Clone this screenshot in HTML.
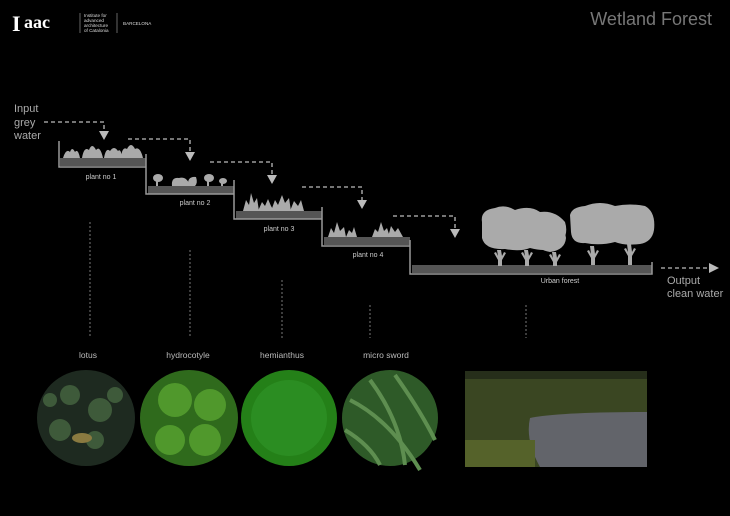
<!DOCTYPE html>
<html><head><meta charset="utf-8"><style>
html,body{margin:0;padding:0;background:#000;}
svg{display:block;}
.s{font-family:"Liberation Sans",sans-serif;}
.r{font-family:"Liberation Serif",serif;}
</style></head><body>
<svg width="730" height="516" viewBox="0 0 730 516" xmlns="http://www.w3.org/2000/svg" class="s">
<rect width="730" height="516" fill="#000"/>
<!-- logo -->
<text x="12" y="31" class="r" font-weight="bold" font-size="22" fill="#fff">I</text>
<text x="24" y="28" class="r" font-weight="bold" font-size="18" fill="#fff">aac</text>
<line x1="80" y1="13" x2="80" y2="33" stroke="#aaa" stroke-width="0.6"/>
<text x="84" y="17" font-size="4.6" fill="#ddd">Institute for</text>
<text x="84" y="22" font-size="4.6" fill="#ddd">advanced</text>
<text x="84" y="27" font-size="4.6" fill="#ddd">architecture</text>
<text x="84" y="32" font-size="4.6" fill="#ddd">of Catalonia</text>
<line x1="117" y1="13" x2="117" y2="33" stroke="#aaa" stroke-width="0.6"/>
<text x="123" y="25" font-size="4.6" fill="#ddd">BARCELONA</text>
<text x="712" y="25" text-anchor="end" font-size="18" fill="#777">Wetland Forest</text>
<g fill="#aaa" font-size="11">
<text x="14" y="112">Input</text><text x="14" y="126">grey</text><text x="14" y="139">water</text>
<text x="667" y="284">Output</text><text x="667" y="297">clean water</text>
</g>
<g stroke="#bbb" stroke-width="1.3" stroke-dasharray="4,3" fill="none">
<path d="M44 122H104V131"/><path d="M128 139H190V152"/><path d="M210 162H272V175"/>
<path d="M302 187H362V200"/><path d="M393 216H455V229"/><path d="M661 268H708"/>
</g>
<g fill="#bbb">
<polygon points="99,131 109,131 104,140"/><polygon points="185,152 195,152 190,161"/>
<polygon points="267,175 277,175 272,184"/><polygon points="357,200 367,200 362,209"/>
<polygon points="450,229 460,229 455,238"/><polygon points="709,263 719,268 709,273"/>
</g>
<g fill="#555">
<rect x="60" y="158" width="86" height="8"/><rect x="148" y="186" width="86" height="8"/>
<rect x="236" y="211" width="86" height="8"/><rect x="324" y="237" width="86" height="8"/>
<rect x="412" y="265" width="240" height="8"/>
</g>
<g stroke="#999" stroke-width="1.5" fill="none">
<path d="M59 141V167H146V154V194H234V180V219H322V207V246H410V240V274H652V262"/>
</g>
<g fill="#aaa">
<path d="M63 158 Q66 148 70 152 Q72 146 75 152 Q78 148 80 158Z"/>
<path d="M82 158 Q84 146 89 150 Q92 142 96 150 Q100 145 103 158Z"/>
<path d="M104 158 Q106 147 110 151 Q114 145 118 151 Q121 148 122 158Z"/>
<path d="M121 158 Q122 146 127 149 Q131 141 135 149 Q140 146 143 158Z"/>
<ellipse cx="158" cy="178" rx="5" ry="4"/><rect x="156" y="178" width="2" height="8"/>
<path d="M172 186 Q171 177 179 178 Q187 176 190 186Z"/><path d="M188 186 Q187 176 196 177 Q198 183 195 186Z"/>
<ellipse cx="209" cy="178" rx="5" ry="4"/><rect x="207" y="178" width="2" height="8"/>
<ellipse cx="223" cy="181" rx="4" ry="3"/><rect x="221" y="181" width="2" height="5"/>
<path d="M243 211 L246 200 L249 205 L251 193 L254 203 L257 198 L259 211Z"/>
<path d="M258 211 L262 202 L265 206 L268 199 L271 206 L274 211Z"/>
<path d="M271 211 L275 200 L278 205 L282 195 L285 203 L289 198 L291 211Z"/>
<path d="M290 211 L294 201 L298 206 L301 200 L304 211Z"/>
<path d="M328 237 L331 228 L334 233 L337 222 L340 231 L344 227 L346 237Z"/>
<path d="M346 237 L349 230 L352 233 L354 227 L357 237Z"/>
<path d="M372 237 L375 229 L378 232 L381 222 L384 231 L387 228 L390 237Z"/>
<path d="M388 237 L391 226 L395 232 L398 228 L403 237Z"/>
<path d="M482 222 Q480 210 495 208 Q505 204 515 210 Q530 205 540 212 Q555 210 565 222 Q570 238 555 248 Q545 252 530 248 Q520 252 505 249 Q485 250 482 238Z"/>
<path d="M535 232 Q538 222 552 225 Q565 228 566 238 Q565 250 550 252 Q538 250 535 242Z"/>
<path d="M570 215 Q572 207 585 206 Q600 200 615 206 Q630 203 645 206 Q656 212 654 230 Q652 242 640 244 Q625 246 615 242 Q600 246 585 243 Q572 244 571 232Z"/>
<path d="M497 250h4l1 6 2-4 2 1-4 7v6h-4v-6l-4-7 2-1 2 4z"/>
<path d="M524 250h4l1 6 2-4 2 1-4 7v6h-4v-6l-4-7 2-1 2 4z"/>
<path d="M552 252h4l1 6 2-4 2 1-4 7v4h-4v-4l-4-7 2-1 2 4z"/>
<path d="M590 246h4l1 8 2-4 2 1-4 7v7h-4v-7l-4-7 2-1 2 4z"/>
<path d="M627 244h4l1 8 2-4 2 1-4 7v9h-4v-9l-4-7 2-1 2 4z"/>
</g>
<g fill="#ccc" font-size="7" text-anchor="middle">
<text x="101" y="179">plant no 1</text><text x="195" y="205">plant no 2</text>
<text x="279" y="231">plant no 3</text><text x="368" y="257">plant no 4</text>
<text x="560" y="283">Urban forest</text>
</g>
<g stroke="#777" stroke-width="1" stroke-dasharray="2,2">
<line x1="90" y1="222" x2="90" y2="338"/><line x1="190" y1="250" x2="190" y2="338"/>
<line x1="282" y1="280" x2="282" y2="338"/><line x1="370" y1="305" x2="370" y2="338"/>
<line x1="526" y1="305" x2="526" y2="338"/>
</g>
<g fill="#bbb" font-size="8.5" text-anchor="middle">
<text x="88" y="358">lotus</text><text x="188" y="358">hydrocotyle</text>
<text x="282" y="358">hemianthus</text><text x="386" y="358">micro sword</text>
</g>
<ellipse cx="86" cy="418" rx="49" ry="48" fill="#1e2a20"/>
<g fill="#3e5a3a"><circle cx="70" cy="395" r="10"/><circle cx="100" cy="410" r="12"/><circle cx="60" cy="430" r="11"/><circle cx="95" cy="440" r="9"/><circle cx="115" cy="395" r="8"/><circle cx="50" cy="400" r="7"/></g>
<ellipse cx="82" cy="438" rx="10" ry="5" fill="#8a7a40"/>
<ellipse cx="189" cy="418" rx="49" ry="48" fill="#2f6a1c"/>
<g fill="#50982c"><circle cx="175" cy="400" r="17"/><circle cx="210" cy="405" r="16"/><circle cx="170" cy="440" r="15"/><circle cx="205" cy="440" r="16"/></g>
<ellipse cx="289" cy="418" rx="48" ry="48" fill="#248018"/>
<ellipse cx="289" cy="418" rx="38" ry="38" fill="#30962a" opacity="0.6"/>
<ellipse cx="390" cy="418" rx="48" ry="48" fill="#2e5a28"/>
<g stroke="#5e8e50" stroke-width="4" fill="none"><path d="M350 400 Q390 420 420 470"/><path d="M370 380 Q400 420 405 465"/><path d="M395 375 Q420 410 435 440"/><path d="M345 430 Q370 445 380 465"/></g>
<rect x="465" y="371" width="182" height="96" fill="#3a4622"/>
<rect x="465" y="371" width="182" height="8" fill="#262e1a"/>
<path d="M530 418 Q560 412 647 412 V467 H540 Q525 440 530 418Z" fill="#62646a"/>
<rect x="465" y="440" width="70" height="27" fill="#55622a"/>
</svg>
</body></html>
